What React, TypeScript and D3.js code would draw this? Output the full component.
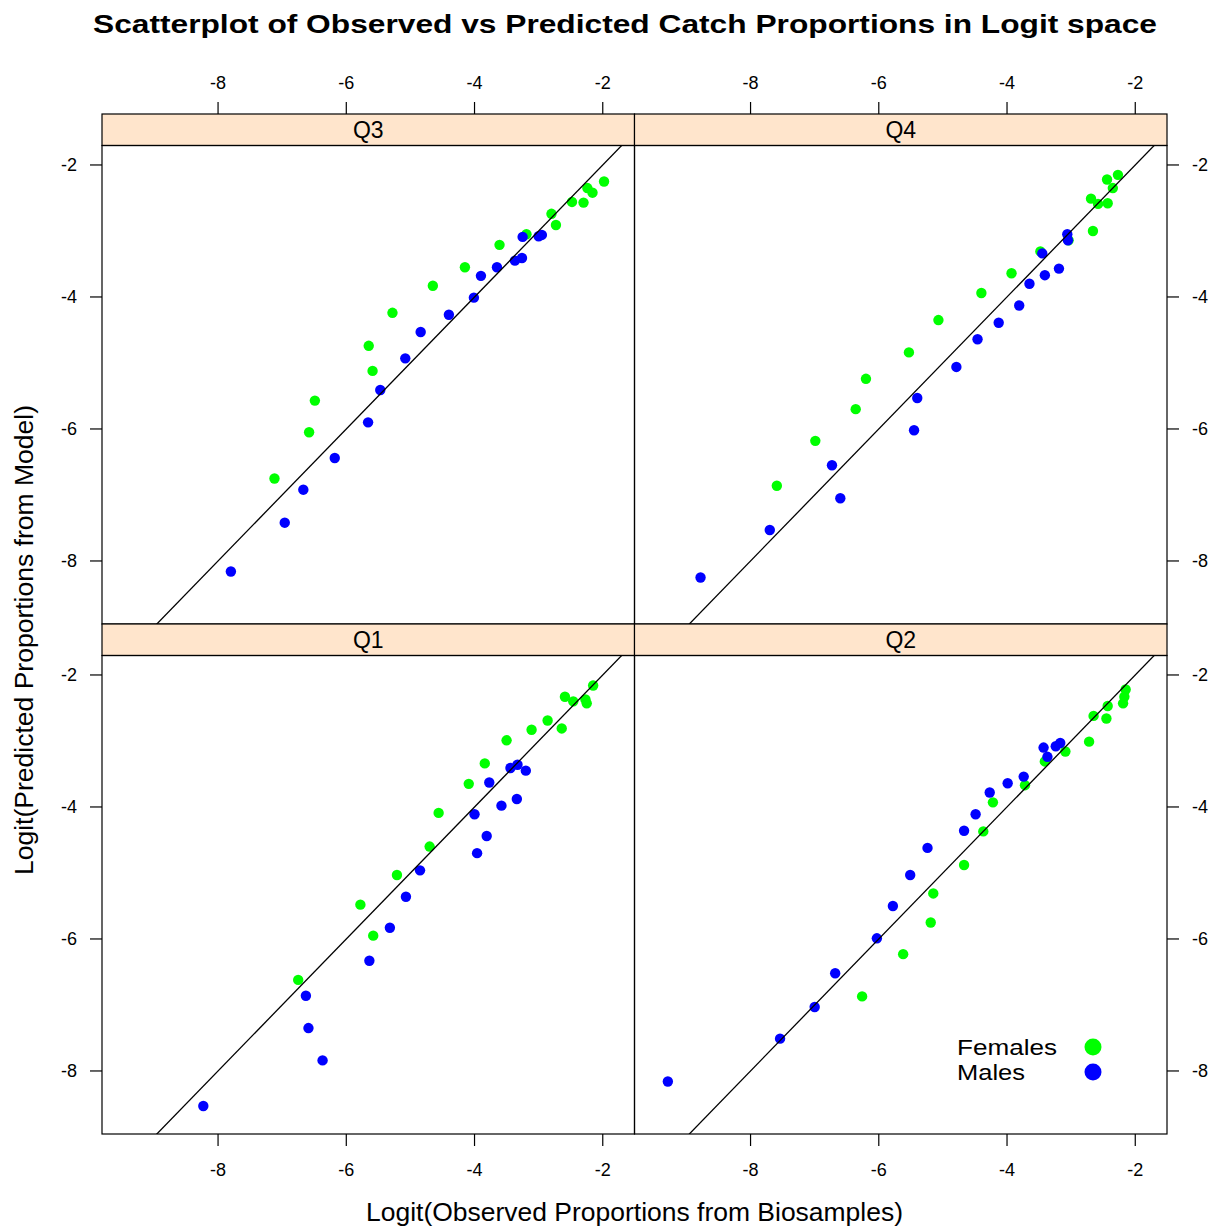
import React from "react";
import * as d3 from "d3";

// ---- Data (logit observed vs predicted) ----
const q3FemalesObs = [-1.98, -2.24, -2.16, -2.48, -2.30, -2.80, -2.73, -3.19, -3.61, -4.15, -4.65, -5.28, -5.65, -5.59, -6.49, -6.58, -7.12];
const q3FemalesPred = [-2.25, -2.35, -2.42, -2.56, -2.57, -2.74, -2.91, -3.05, -3.21, -3.55, -3.83, -4.24, -4.74, -5.12, -5.57, -6.05, -6.75];
const q3MalesObs = [-3.25, -3.00, -2.95, -3.37, -3.26, -3.65, -3.90, -4.01, -4.40, -4.84, -5.08, -5.47, -5.66, -6.18, -6.67, -6.96, -7.80];
const q3MalesPred = [-3.09, -3.08, -3.06, -3.45, -3.41, -3.55, -3.68, -4.01, -4.27, -4.53, -4.93, -5.41, -5.90, -6.44, -6.92, -7.42, -8.16];

const q4FemalesObs = [-2.27, -2.44, -2.35, -2.69, -2.58, -2.43, -2.66, -3.04, -3.48, -3.93, -4.40, -5.07, -5.53, -6.20, -6.36, -6.99, -7.59];
const q4FemalesPred = [-2.15, -2.22, -2.35, -2.51, -2.59, -2.58, -3.00, -3.14, -3.31, -3.64, -3.94, -4.35, -4.84, -5.24, -5.70, -6.18, -6.86];
const q4MalesObs = [-3.06, -3.05, -3.45, -3.19, -3.41, -3.65, -3.81, -4.13, -4.46, -4.79, -5.40, -5.45, -6.73, -6.60, -7.70, -8.78];
const q4MalesPred = [-3.05, -3.14, -3.34, -3.57, -3.67, -3.80, -4.13, -4.39, -4.64, -5.06, -5.53, -6.02, -6.55, -7.05, -7.53, -8.25];

const q1FemalesObs = [-2.15, -2.59, -2.46, -2.27, -2.25, -2.86, -2.64, -3.11, -3.50, -3.84, -4.09, -4.56, -4.70, -5.21, -5.78, -5.58, -6.75];
const q1FemalesPred = [-2.16, -2.33, -2.40, -2.37, -2.43, -2.69, -2.81, -2.83, -2.99, -3.34, -3.65, -4.09, -4.60, -5.03, -5.48, -5.95, -6.62];
const q1MalesObs = [-3.33, -3.44, -3.20, -3.77, -3.34, -3.58, -4.00, -3.81, -3.96, -4.85, -5.07, -5.32, -5.64, -6.63, -6.59, -6.37, -8.23];
const q1MalesPred = [-3.36, -3.41, -3.45, -3.63, -3.88, -3.98, -4.11, -4.44, -4.70, -4.96, -5.36, -5.83, -6.33, -6.86, -7.35, -7.84, -8.53];

const q2FemalesObs = [-2.15, -2.17, -2.19, -2.43, -2.65, -2.45, -2.72, -3.09, -3.41, -3.72, -4.22, -4.37, -4.67, -5.15, -5.19, -5.62, -6.26];
const q2FemalesPred = [-2.22, -2.33, -2.43, -2.47, -2.62, -2.66, -3.01, -3.16, -3.31, -3.67, -3.93, -4.37, -4.88, -5.31, -5.75, -6.23, -6.87];
const q2MalesObs = [-3.17, -3.24, -3.43, -3.37, -3.74, -3.99, -4.27, -4.49, -4.67, -5.24, -5.51, -5.78, -6.03, -6.68, -7.00, -7.54, -9.29];
const q2MalesPred = [-3.03, -3.08, -3.10, -3.24, -3.54, -3.64, -3.78, -4.11, -4.36, -4.62, -5.03, -5.50, -5.99, -6.52, -7.03, -7.51, -8.16];

const panelNames = ["Q3", "Q4", "Q1", "Q2"];
const xTicks = [-8, -6, -4, -2];
const yTicks = [-2, -4, -6, -8];
const xLimits = [-9.81, -1.505];
const yLimits = [-8.955, -1.705];
const groupNames = ["Females", "Males"];
const groupColors = ["#00FF00", "#0000FF"];

const titleText = "Scatterplot of Observed vs Predicted Catch Proportions in Logit space";
const xLabel = "Logit(Observed Proportions from Biosamples)";
const yLabel = "Logit(Predicted Proportions from Model)";

const panels = [
  { name: panelNames[0], col: 0, row: 0, groups: [[q3FemalesObs, q3FemalesPred], [q3MalesObs, q3MalesPred]] },
  { name: panelNames[1], col: 1, row: 0, groups: [[q4FemalesObs, q4FemalesPred], [q4MalesObs, q4MalesPred]] },
  { name: panelNames[2], col: 0, row: 1, groups: [[q1FemalesObs, q1FemalesPred], [q1MalesObs, q1MalesPred]] },
  { name: panelNames[3], col: 1, row: 1, groups: [[q2FemalesObs, q2FemalesPred], [q2MalesObs, q2MalesPred]] },
];

// ---- Layout ----
const W = 1219;
const H = 1228;
const left0 = 102;
const colW = 532.5;
const top0 = 114;
const stripH = 31.5;
const panelH = 478.5;
const tickLen = 12;
const font = "'Liberation Sans', Arial, Helvetica, sans-serif";

export default function App() {
  const colX = (c: number) => left0 + c * colW;
  const rowStripY = (r: number) => top0 + r * (stripH + panelH);
  const rowPanelY = (r: number) => rowStripY(r) + stripH;

  return (
    <svg
      width={W}
      height={H}
      style={{ position: "absolute", left: 0, top: 0, background: "#fff", fontFamily: font }}
    >
      <defs>
        {panels.map((p) => (
          <clipPath id={`clip-${p.name}`} key={p.name}>
            <rect x={colX(p.col)} y={rowPanelY(p.row)} width={colW} height={panelH} />
          </clipPath>
        ))}
      </defs>

      <text x={625} y={33} textAnchor="middle" fontWeight="bold" fontSize={26} textLength={1064} lengthAdjust="spacingAndGlyphs">
        {titleText}
      </text>

      {panels.map((p) => {
        const x0 = colX(p.col);
        const y0 = rowPanelY(p.row);
        const xs = d3.scaleLinear().domain(xLimits).range([x0, x0 + colW]);
        const ys = d3.scaleLinear().domain(yLimits).range([y0 + panelH, y0]);
        const line = d3.line<number>().x((v) => xs(v)).y((v) => ys(v));
        const diag = [Math.min(xLimits[0], yLimits[0]) - 1, Math.max(xLimits[1], yLimits[1]) + 1];
        return (
          <g key={p.name}>
            {/* strip */}
            <rect x={x0} y={rowStripY(p.row)} width={colW} height={stripH} fill="#ffe5cc" stroke="#000" strokeWidth={1.2} />
            <text x={x0 + colW / 2} y={rowStripY(p.row) + stripH / 2 + 8} textAnchor="middle" fontSize={23}>
              {p.name}
            </text>
            {/* points */}
            <g clipPath={`url(#clip-${p.name})`}>
              {p.groups.map((g, gi) =>
                g[0].map((ox, i) => (
                  <circle key={`${gi}-${i}`} cx={xs(ox)} cy={ys(g[1][i])} r={5.2} fill={groupColors[gi]} />
                ))
              )}
              <path d={line(diag) || ""} stroke="#000" strokeWidth={1.3} fill="none" />
            </g>
            <rect x={x0} y={y0} width={colW} height={panelH} fill="none" stroke="#000" strokeWidth={1.2} />
            {/* top axis */}
            {p.row === 0 &&
              xTicks.map((t) => (
                <g key={`tx${t}`}>
                  <line x1={xs(t)} x2={xs(t)} y1={rowStripY(0)} y2={rowStripY(0) - tickLen} stroke="#000" strokeWidth={1.2} />
                  <text x={xs(t)} y={89} textAnchor="middle" fontSize={18}>{t}</text>
                </g>
              ))}
            {/* bottom axis */}
            {p.row === 1 &&
              xTicks.map((t) => (
                <g key={`bx${t}`}>
                  <line x1={xs(t)} x2={xs(t)} y1={y0 + panelH} y2={y0 + panelH + tickLen} stroke="#000" strokeWidth={1.2} />
                  <text x={xs(t)} y={y0 + panelH + 42} textAnchor="middle" fontSize={18}>{t}</text>
                </g>
              ))}
            {/* left axis */}
            {p.col === 0 &&
              yTicks.map((t) => (
                <g key={`ly${t}`}>
                  <line x1={x0} x2={x0 - tickLen} y1={ys(t)} y2={ys(t)} stroke="#000" strokeWidth={1.2} />
                  <text x={x0 - 25} y={ys(t) + 6.5} textAnchor="end" fontSize={18}>{t}</text>
                </g>
              ))}
            {/* right axis */}
            {p.col === 1 &&
              yTicks.map((t) => (
                <g key={`ry${t}`}>
                  <line x1={x0 + colW} x2={x0 + colW + tickLen} y1={ys(t)} y2={ys(t)} stroke="#000" strokeWidth={1.2} />
                  <text x={x0 + colW + 25} y={ys(t) + 6.5} textAnchor="start" fontSize={18}>{t}</text>
                </g>
              ))}
          </g>
        );
      })}

      {/* legend */}
      {groupNames.map((g, i) => (
        <g key={g}>
          <text x={957} y={1055 + i * 25} fontSize={22.5} textLength={i === 0 ? 100 : 68} lengthAdjust="spacingAndGlyphs">{g}</text>
          <circle cx={1093} cy={1047 + i * 25} r={8.5} fill={groupColors[i]} />
        </g>
      ))}

      {/* axis titles */}
      <text x={634.5} y={1221} textAnchor="middle" fontSize={25} textLength={537} lengthAdjust="spacingAndGlyphs">
        {xLabel}
      </text>
      <text
        transform={`translate(33,640) rotate(-90)`}
        textAnchor="middle"
        fontSize={25}
        textLength={470}
        lengthAdjust="spacingAndGlyphs"
      >
        {yLabel}
      </text>
    </svg>
  );
}
